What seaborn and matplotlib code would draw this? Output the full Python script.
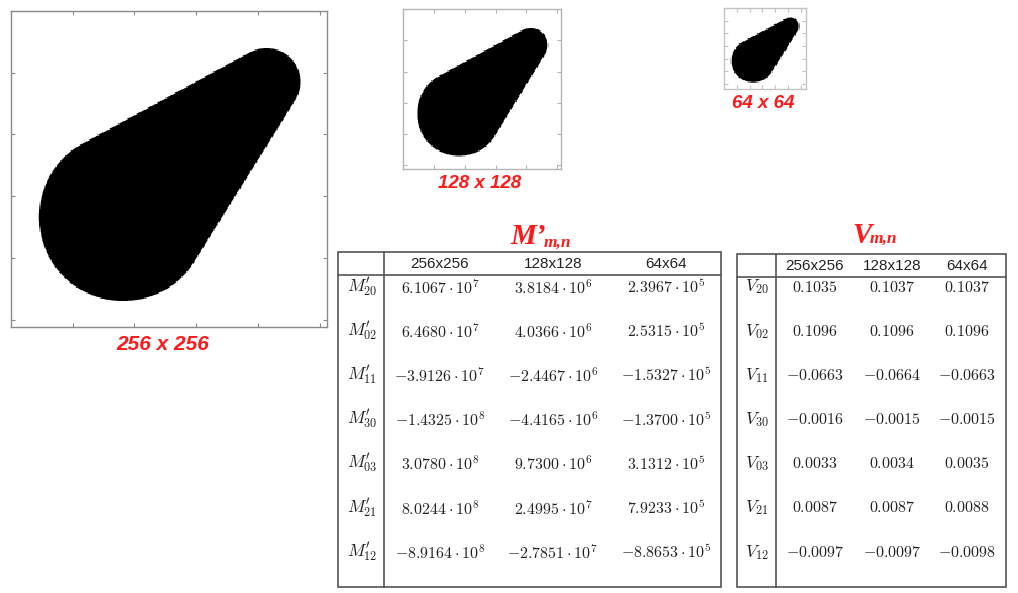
import numpy as np
import matplotlib
matplotlib.use("Agg")
import matplotlib.pyplot as plt
from matplotlib.patches import Rectangle
import seaborn as sns

# ---- data -------------------------------------------------------------
resolutions = [256, 128, 64]
size_labels = ["256x256", "128x128", "64x64"]
image_titles = ["256 x 256", "128 x 128", "64 x 64"]

# teardrop shape = convex hull of two discs, given in 256-pixel units (x, y, r)
big_disc = (90.8, 167.0, 68.0)
small_disc = (207.0, 57.5, 27.5)

moment_orders = ["20", "02", "11", "30", "03", "21", "12"]

# central moments M'_{m,n}
m_256 = [6.1067e7, 6.4680e7, -3.9126e7, -1.4325e8, 3.0780e8, 8.0244e8, -8.9164e8]
m_128 = [3.8184e6, 4.0366e6, -2.4467e6, -4.4165e6, 9.7300e6, 2.4995e7, -2.7851e7]
m_64 = [2.3967e5, 2.5315e5, -1.5327e5, -1.3700e5, 3.1312e5, 7.9233e5, -8.8653e5]

# normalised moments V_{m,n}
v_256 = [0.1035, 0.1096, -0.0663, -0.0016, 0.0033, 0.0087, -0.0097]
v_128 = [0.1037, 0.1096, -0.0664, -0.0015, 0.0034, 0.0087, -0.0097]
v_64 = [0.1037, 0.1096, -0.0663, -0.0015, 0.0035, 0.0088, -0.0098]

# ---- helpers ----------------------------------------------------------
W, H = 1018, 593
RED = "#ff1a1a"
LINE = "#555555"
INK = "#222222"

sns.set_theme(style="white")
plt.rcParams["mathtext.fontset"] = "cm"
plt.rcParams["font.family"] = ["DejaVu Sans"]


def teardrop(n, ss=4):
    s = n / 256.0
    x1, y1, r1 = [v * s for v in big_disc]
    x2, y2, r2 = [v * s for v in small_disc]
    g = (np.arange(n * ss) + 0.5) / ss
    X, Y = np.meshgrid(g, g)
    d = np.full(X.shape, np.inf)
    for t in np.linspace(0.0, 1.0, 121):
        cx = x1 + t * (x2 - x1)
        cy = y1 + t * (y2 - y1)
        r = r1 + t * (r2 - r1)
        d = np.minimum(d, np.hypot(X - cx, Y - cy) - r)
    inside = (d <= 0).astype(float)
    return inside.reshape(n, ss, n, ss).mean(axis=(1, 3))


def sci_tex(v):
    e = int(np.floor(np.log10(abs(v))))
    m = v / 10 ** e
    sign = "-" if m < 0 else ""
    return r"$%s%.4f\cdot 10^{%d}$" % (sign, abs(m), e)


def dec_tex(v):
    sign = "-" if v < 0 else ""
    return r"$%s%.4f$" % (sign, abs(v))


fig = plt.figure(figsize=(W / 100, H / 100), dpi=100)
fig.patch.set_facecolor("white")

bg = fig.add_axes([0, 0, 1, 1], zorder=0)
bg.set_xlim(0, W)
bg.set_ylim(H, 0)
bg.axis("off")


def px_axes(x0, y0, x1, y1):
    return fig.add_axes([x0 / W, 1 - y1 / H, (x1 - x0) / W, (y1 - y0) / H], zorder=2)


# ---- the three binary images -----------------------------------------
img_boxes = [(11, 11, 327, 327), (403, 9, 561, 169), (724, 8, 806, 89)]
frame_cols = ["#8a8a8a", "#b5b5b5", "#c4c4c4"]
tick_steps = [50, 25, 10]
title_pos = [(163, 345, 15), (480, 183, 13.5), (763, 103, 13.5)]

for n, box, fc, step, tpos, title in zip(resolutions, img_boxes, frame_cols,
                                         tick_steps, title_pos, image_titles):
    ax = px_axes(*box)
    sns.heatmap(teardrop(n), ax=ax, cmap="gray_r", vmin=0, vmax=1, cbar=False,
                xticklabels=False, yticklabels=False)
    ax.set_axisbelow(False)
    for sp in ax.spines.values():
        sp.set_visible(True)
        sp.set_color(fc)
        sp.set_linewidth(1.0)
    ticks = np.arange(step, n, step)
    ax.set_xticks(ticks)
    ax.set_yticks(ticks)
    ax.tick_params(direction="in", length=3, width=0.8, color=fc,
                   top=True, right=True, bottom=True, left=True,
                   labelbottom=False, labelleft=False)
    x, y, fs = tpos
    bg.text(x, y, title, ha="center", va="center", color=RED, fontsize=fs,
            fontweight="bold", fontstyle="italic", family="Liberation Sans")

# ---- tables -------------------------------------------------------------
row_y = [287 + i * 44.2 for i in range(len(moment_orders))]
renderer = fig.canvas.get_renderer()


def draw_table(box, header_y, sep_x, label_x, col_x, labels, cols, fmt, title, tpos):
    x0, y0, x1, y1 = box
    bg.add_patch(Rectangle((x0, y0), x1 - x0, y1 - y0, fill=False,
                           edgecolor=LINE, linewidth=1.2))
    bg.plot([x0, x1], [header_y, header_y], color=LINE, lw=1.2)
    bg.plot([sep_x, sep_x], [y0, y1], color=LINE, lw=1.2)
    hy = (y0 + header_y) / 2 + 1
    for cx, lab in zip(col_x, size_labels):
        bg.text(cx, hy, lab, ha="center", va="center", fontsize=11,
                family="Liberation Sans", color=INK)
    for ry, lab in zip(row_y, labels):
        bg.text(label_x, ry, lab, ha="center", va="center", fontsize=12.5,
                color=INK)
    for cx, col in zip(col_x, cols):
        for ry, v in zip(row_y, col):
            bg.text(cx, ry, fmt(v), ha="center", va="center", fontsize=11.5,
                    color=INK)
    # red title with its subscript set right after the main glyphs
    main, sub = title
    tx, ty, dy = tpos
    t_main = bg.text(tx, ty, main, ha="left", va="baseline", color=RED, fontsize=21,
                     fontweight="bold", fontstyle="italic", family="Liberation Serif")
    bb = t_main.get_window_extent(renderer)
    sx = bg.transData.inverted().transform((bb.x1, bb.y0))[0] - 2
    bg.text(sx, ty + dy, sub, ha="left", va="baseline", color=RED, fontsize=12.5,
            fontweight="bold", fontstyle="italic", family="Liberation Serif")


draw_table((338, 252, 721, 587), 275, 384, 362, [440, 553, 666],
           [r"$M^{\prime}_{%s}$" % o for o in moment_orders], [m_256, m_128, m_64],
           sci_tex, ("M\u2019", "m,n"), (510, 244, 3))

draw_table((737, 254, 1006, 587), 277, 776, 757, [815, 892, 967],
           [r"$V_{%s}$" % o for o in moment_orders], [v_256, v_128, v_64],
           dec_tex, ("V", "m,n"), (852, 243, 0))

fig.savefig("out.png", dpi=100, facecolor="white")
